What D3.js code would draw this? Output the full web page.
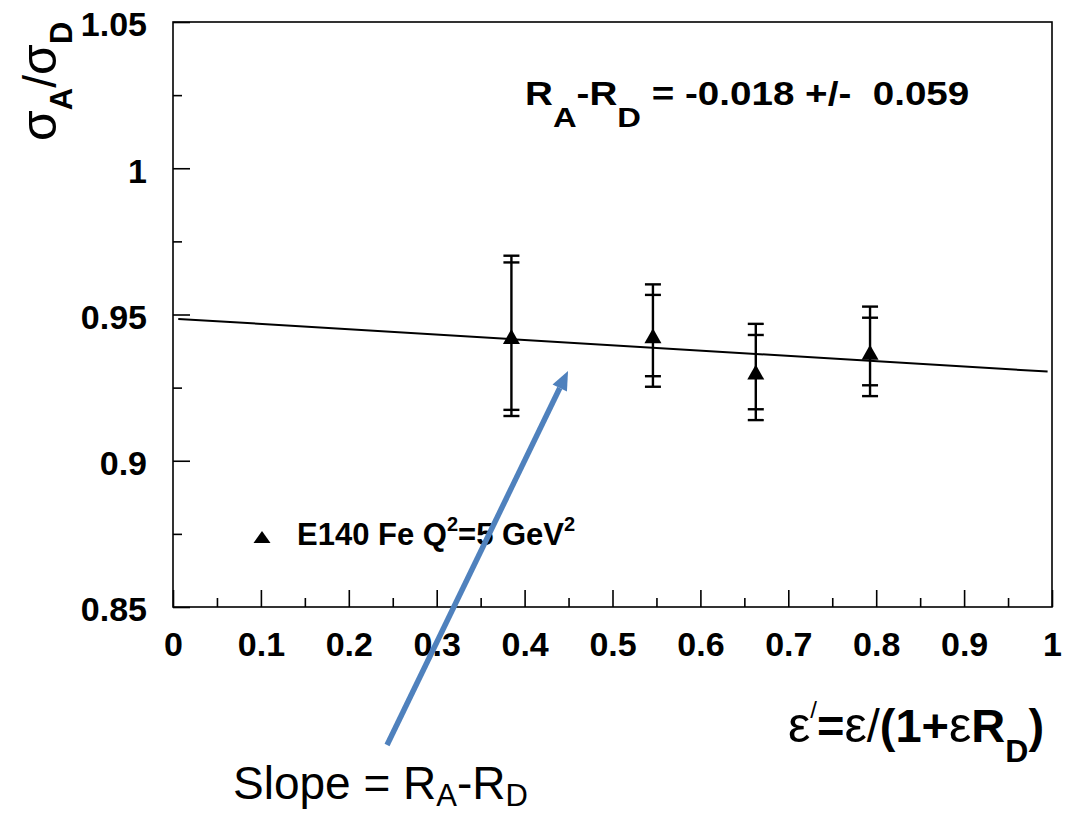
<!DOCTYPE html>
<html>
<head>
<meta charset="utf-8">
<script src="https://cdn.jsdelivr.net/npm/d3@7"></script>
<style>
  body { margin: 0; background: #fff; }
  text { font-family: "Liberation Sans", Arial, Helvetica, sans-serif; }
</style>
</head>
<body>
<div id="chart"></div>
<script>
// data
const epsPrime = [0.385, 0.546, 0.663, 0.793];
const ratio    = [0.9425, 0.9427, 0.9303, 0.9371];
const statLo   = [0.9174, 0.9289, 0.9176, 0.9258];
const statHi   = [0.9678, 0.9567, 0.9430, 0.9489];
const totLo    = [0.9153, 0.9253, 0.9139, 0.9221];
const totHi    = [0.9701, 0.9603, 0.9468, 0.9527];

// straight-line fit: ratio = fitA + fitB * eps'
const fitA = 0.9486;
const fitB = -0.0182;
const fitRange = [0.006, 0.995];

const xMajor = [0, 0.1, 0.2, 0.3, 0.4, 0.5, 0.6, 0.7, 0.8, 0.9, 1];
const xMinor = [0.05, 0.15, 0.25, 0.35, 0.45, 0.55, 0.65, 0.75, 0.85, 0.95];
const xLabels = ['0', '0.1', '0.2', '0.3', '0.4', '0.5', '0.6', '0.7', '0.8', '0.9', '1'];
const yMajor = [0.85, 0.9, 0.95, 1, 1.05];
const yMinor = [0.875, 0.925, 0.975, 1.025];
const yLabels = ['0.85', '0.9', '0.95', '1', '1.05'];

// arrow annotation, in data units (tail below the frame)
const arrowTail = [0.2435, 0.8028];
const arrowTip  = [0.4494, 0.9307];

const W = 1079, H = 814;
const margin = { top: 22, right: 27, bottom: 207, left: 173 };
const width = W - margin.left - margin.right;
const height = H - margin.top - margin.bottom;

const svg = d3.select('#chart').append('svg')
  .attr('width', W).attr('height', H);

const x = d3.scaleLinear().domain([0, 1]).range([margin.left, margin.left + width]);
const y = d3.scaleLinear().domain([0.85, 1.05]).range([margin.top + height, margin.top]);

function styleAxis(g) {
  g.select('.domain').remove();
  g.selectAll('line').attr('stroke', '#000').attr('stroke-width', 1.6);
  g.selectAll('text')
    .attr('fill', '#000')
    .style('font-size', '34px')
    .style('font-weight', 'bold');
}

// axes
svg.append('g')
  .attr('transform', `translate(${margin.left},0)`)
  .call(d3.axisLeft(y).tickValues(yMajor).tickFormat((d, i) => yLabels[i])
    .tickSizeInner(-17).tickSizeOuter(0).tickPadding(26))
  .call(styleAxis)
  .call(g => g.selectAll('text').attr('dy', '0.41em'));

svg.append('g')
  .attr('transform', `translate(${margin.left},0)`)
  .call(d3.axisLeft(y).tickValues(yMinor).tickFormat(() => '')
    .tickSizeInner(-9).tickSizeOuter(0))
  .call(styleAxis);

svg.append('g')
  .attr('transform', `translate(0,${margin.top + height})`)
  .call(d3.axisBottom(x).tickValues(xMajor).tickFormat((d, i) => xLabels[i])
    .tickSizeInner(-17).tickSizeOuter(0).tickPadding(25))
  .call(styleAxis);

svg.append('g')
  .attr('transform', `translate(0,${margin.top + height})`)
  .call(d3.axisBottom(x).tickValues(xMinor).tickFormat(() => '')
    .tickSizeInner(-9).tickSizeOuter(0))
  .call(styleAxis);

// frame
svg.append('rect')
  .attr('x', margin.left).attr('y', margin.top)
  .attr('width', width).attr('height', height)
  .attr('fill', 'none').attr('stroke', '#000').attr('stroke-width', 1.6);

// fit line
svg.append('path')
  .datum(fitRange)
  .attr('d', d3.line().x(d => x(d)).y(d => y(fitA + fitB * d)))
  .attr('fill', 'none').attr('stroke', '#000').attr('stroke-width', 2);

// error bars (inner caps: statistical, outer caps: total)
const pts = epsPrime.map((e, i) => ({
  x: e, y: ratio[i], sl: statLo[i], sh: statHi[i], tl: totLo[i], th: totHi[i]
}));
const capW = 8;
const bars = svg.append('g').attr('stroke', '#000').attr('stroke-width', 2.4);
pts.forEach(p => {
  bars.append('line')
    .attr('x1', x(p.x)).attr('x2', x(p.x))
    .attr('y1', y(p.tl)).attr('y2', y(p.th));
  [p.tl, p.th, p.sl, p.sh].forEach(v => {
    bars.append('line')
      .attr('x1', x(p.x) - capW).attr('x2', x(p.x) + capW)
      .attr('y1', y(v)).attr('y2', y(v));
  });
});

// triangle markers
function tri(w, h) {
  return `M0,${-h / 2}L${w / 2},${h / 2}L${-w / 2},${h / 2}Z`;
}
svg.append('g').selectAll('path')
  .data(pts)
  .join('path')
  .attr('transform', d => `translate(${x(d.x)},${y(d.y)})`)
  .attr('d', tri(17, 15))
  .attr('fill', '#000');

// rich text helper: parts {t, size, weight, shift}
function rich(g, parts) {
  const t = g.append('text').style('white-space', 'pre').attr('fill', '#000');
  parts.forEach(p => {
    t.append('tspan')
      .attr('y', p.shift || 0)
      .style('font-size', p.size + 'px')
      .style('font-weight', p.weight || 'normal')
      .text(p.t);
  });
  return t;
}

// y title
rich(svg.append('g').attr('transform', 'translate(56,141) rotate(-90)'), [
  { t: 'σ', size: 50 },
  { t: 'A', size: 31, weight: 'bold', shift: 16 },
  { t: '/', size: 46 },
  { t: 'σ', size: 50 },
  { t: 'D', size: 31, weight: 'bold', shift: 16 }
]);

// x title
rich(svg.append('g').attr('transform', 'translate(788,742)'), [
  { t: 'ε', size: 50 },
  { t: '/', size: 24, shift: -24 },
  { t: '=', size: 47, weight: 'bold' },
  { t: 'ε', size: 50 },
  { t: '/', size: 47 },
  { t: '(1+', size: 47, weight: 'bold' },
  { t: 'ε', size: 50 },
  { t: 'R', size: 47, weight: 'bold' },
  { t: 'D', size: 32, weight: 'bold', shift: 20 },
  { t: ')', size: 47, weight: 'bold' }
]);

// fit result
rich(svg.append('g').attr('transform', 'translate(525,105) scale(1.17,1)'), [
  { t: 'R', size: 33, weight: 'bold' },
  { t: 'A', size: 28, weight: 'bold', shift: 22 },
  { t: '-R', size: 33, weight: 'bold' },
  { t: 'D', size: 28, weight: 'bold', shift: 22 },
  { t: ' = -0.018 +/-  0.059', size: 33, weight: 'bold' }
]);

// legend
const leg = svg.append('g').attr('transform', 'translate(262,545)');
leg.append('path').attr('transform', 'translate(0,-8)').attr('d', tri(17, 12)).attr('fill', '#000');
rich(leg.append('g').attr('transform', 'translate(35,0)'), [
  { t: 'E140 Fe Q', size: 31, weight: 'bold' },
  { t: '2', size: 20, weight: 'bold', shift: -14 },
  { t: '=5 GeV', size: 31, weight: 'bold' },
  { t: '2', size: 20, weight: 'bold', shift: -14 }
]);

// blue arrow
const ax0 = x(arrowTail[0]), ay0 = y(arrowTail[1]);
const ax1 = x(arrowTip[0]), ay1 = y(arrowTip[1]);
const ang = Math.atan2(ay1 - ay0, ax1 - ax0);
const headL = 19, headW = 8;
const bx = ax1 - headL * Math.cos(ang), by = ay1 - headL * Math.sin(ang);
const arrowColor = '#4F81BD';
svg.append('line')
  .attr('x1', ax0).attr('y1', ay0).attr('x2', bx).attr('y2', by)
  .attr('stroke', arrowColor).attr('stroke-width', 5.5);
svg.append('path')
  .attr('d', `M${ax1},${ay1}L${bx + headW * Math.sin(ang)},${by - headW * Math.cos(ang)}L${bx - headW * Math.sin(ang)},${by + headW * Math.cos(ang)}Z`)
  .attr('fill', arrowColor);

// slope caption
rich(svg.append('g').attr('transform', 'translate(233,799)'), [
  { t: 'Slope = R', size: 46 },
  { t: 'A', size: 31, shift: 7 },
  { t: '-R', size: 46 },
  { t: 'D', size: 31, shift: 7 }
]);
</script>
</body>
</html>
